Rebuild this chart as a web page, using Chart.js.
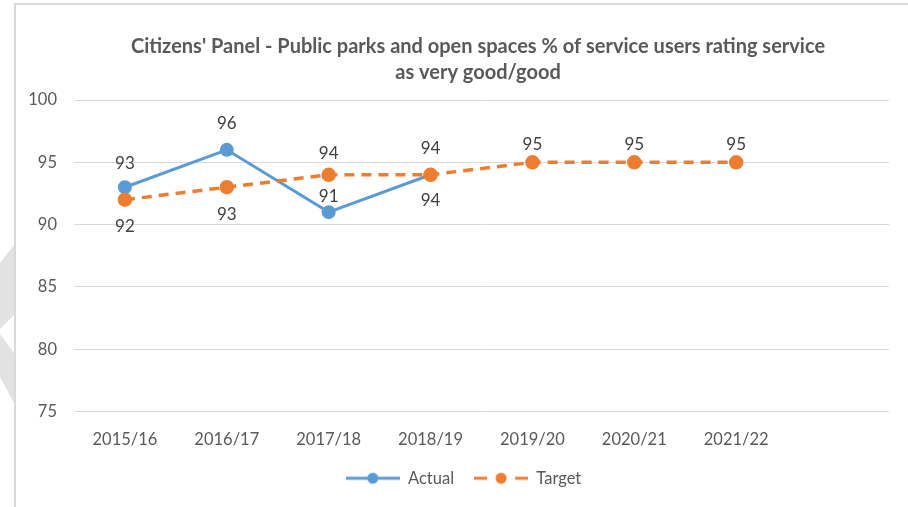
<!DOCTYPE html>
<html>
<head>
<meta charset="utf-8">
<script src="https://cdn.jsdelivr.net/npm/chart.js@4.4.1/dist/chart.umd.min.js"></script>
<style>
  html, body { margin: 0; padding: 0; background: #ffffff; }
  #wrap { position: relative; width: 908px; height: 507px; overflow: hidden; }
  #bg { position: absolute; left: 0; top: 0; }
  #c { position: absolute; left: 0; top: 0; }
</style>
</head>
<body>
<div id="wrap">
  <svg id="bg" width="908" height="507">
    <polygon points="0,263 14,245 14,315 0,329" fill="#e2e2e2"/>
    <polygon points="0,334 14,353 14,403 0,377" fill="#e2e2e2"/>
    <rect x="14" y="3" width="894" height="2" fill="#d9d9d9"/>
    <rect x="14" y="3" width="2" height="504" fill="#d9d9d9"/>
  </svg>
  <canvas id="c" width="908" height="507"></canvas>
</div>
<script>
const categories = ['2015/16', '2016/17', '2017/18', '2018/19', '2019/20', '2020/21', '2021/22', ''];
const actualValues = [93, 96, 91, 94];
const targetValues = [92, 93, 94, 94, 95, 95, 95];
const yTicks = [75, 80, 85, 90, 95, 100];
const titleLines = ["Citizens' Panel - Public parks and open spaces % of service users rating service", 'as very good/good'];
// vertical offset of each value label from its point (negative = above)
const actualLabelDy = [-24, -26, -16, -26];
const targetLabelDy = [27, 27, -21, 26, -18, -18, -18];

const BLUE = '#5B9BD5';
const ORANGE = '#ED7D31';
const FONT = 'Lato, "Open Sans", sans-serif';

function legendIcon(color, dashed) {
  const cv = document.createElement('canvas');
  cv.width = 54; cv.height = 14;
  const g = cv.getContext('2d');
  g.strokeStyle = color; g.fillStyle = color; g.lineWidth = 3; g.lineCap = 'butt';
  g.beginPath();
  if (dashed) {
    g.moveTo(0, 7); g.lineTo(13, 7);
    g.moveTo(41, 7); g.lineTo(54, 7);
  } else {
    g.moveTo(0, 7); g.lineTo(54, 7);
  }
  g.stroke();
  g.beginPath(); g.arc(27, 7, 5.5, 0, Math.PI * 2); g.fill();
  return cv;
}
const icons = [legendIcon(BLUE, false), legendIcon(ORANGE, true)];

const labelPlugin = {
  id: 'pointLabels',
  afterLayout(chart) {
    // centre title and legend as in the reference
    if (chart.titleBlock) { chart.titleBlock.left = 67; }
    if (chart.legend) { chart.legend.left += 38; }
  },
  afterDatasetsDraw(chart) {
    const ctx = chart.ctx;
    ctx.save();
    ctx.font = '17px ' + FONT;
    ctx.fillStyle = '#404040';
    ctx.textAlign = 'center';
    ctx.textBaseline = 'middle';
    const dySets = [actualLabelDy, targetLabelDy];
    chart.data.datasets.forEach((ds, di) => {
      const meta = chart.getDatasetMeta(di);
      meta.data.forEach((pt, i) => {
        const v = ds.data[i];
        if (v === null || v === undefined) return;
        ctx.fillText(String(v), pt.x, pt.y + dySets[di][i]);
      });
    });
    ctx.restore();
  }
};

new Chart(document.getElementById('c'), {
  type: 'line',
  data: {
    labels: categories,
    datasets: [
      {
        label: 'Actual',
        data: actualValues,
        borderColor: BLUE,
        backgroundColor: BLUE,
        borderWidth: 3,
        pointRadius: 5.5,
        pointHoverRadius: 5.5,
        pointBackgroundColor: BLUE,
        pointBorderColor: BLUE,
        tension: 0,
        order: 1
      },
      {
        label: 'Target',
        data: targetValues,
        borderColor: ORANGE,
        backgroundColor: ORANGE,
        borderWidth: 3.5,
        borderDash: [10, 7],
        pointRadius: 5.5,
        pointHoverRadius: 5.5,
        pointBackgroundColor: ORANGE,
        pointBorderColor: ORANGE,
        tension: 0,
        order: 0
      }
    ]
  },
  options: {
    responsive: false,
    animation: false,
    devicePixelRatio: 1,
    layout: { padding: { left: 0, right: 19, top: 34, bottom: 10.5 } },
    plugins: {
      tooltip: { enabled: false },
      title: {
        display: true,
        text: titleLines,
        color: '#595959',
        font: { family: FONT, size: 20, weight: 'bold', lineHeight: 1.3 },
        padding: { top: 0, bottom: 14 }
      },
      legend: {
        position: 'bottom',
        labels: {
          usePointStyle: true,
          pointStyleWidth: 54,
          padding: 20,
          color: '#595959',
          font: { family: FONT, size: 16.5 },
          sort: (a, b) => a.datasetIndex - b.datasetIndex,
          generateLabels(chart) {
            const items = Chart.defaults.plugins.legend.labels.generateLabels(chart);
            items.forEach(it => { it.pointStyle = icons[it.datasetIndex]; });
            return items;
          }
        }
      }
    },
    scales: {
      x: {
        offset: true,
        grid: { display: false },
        border: { display: false },
        ticks: { color: '#595959', font: { family: FONT, size: 16.5 }, padding: 10, maxRotation: 0, autoSkip: false },
        afterFit(s) { s.height = 38.5; }
      },
      y: {
        min: 75,
        max: 100,
        afterBuildTicks(s) { s.ticks = yTicks.map(v => ({ value: v })); },
        grid: { color: '#d9d9d9', lineWidth: 1, drawTicks: false },
        border: { display: false },
        ticks: { color: '#595959', font: { family: FONT, size: 16.5 }, padding: 17 },
        afterFit(s) { s.width = 74; }
      }
    }
  },
  plugins: [labelPlugin]
});
</script>
</body>
</html>
